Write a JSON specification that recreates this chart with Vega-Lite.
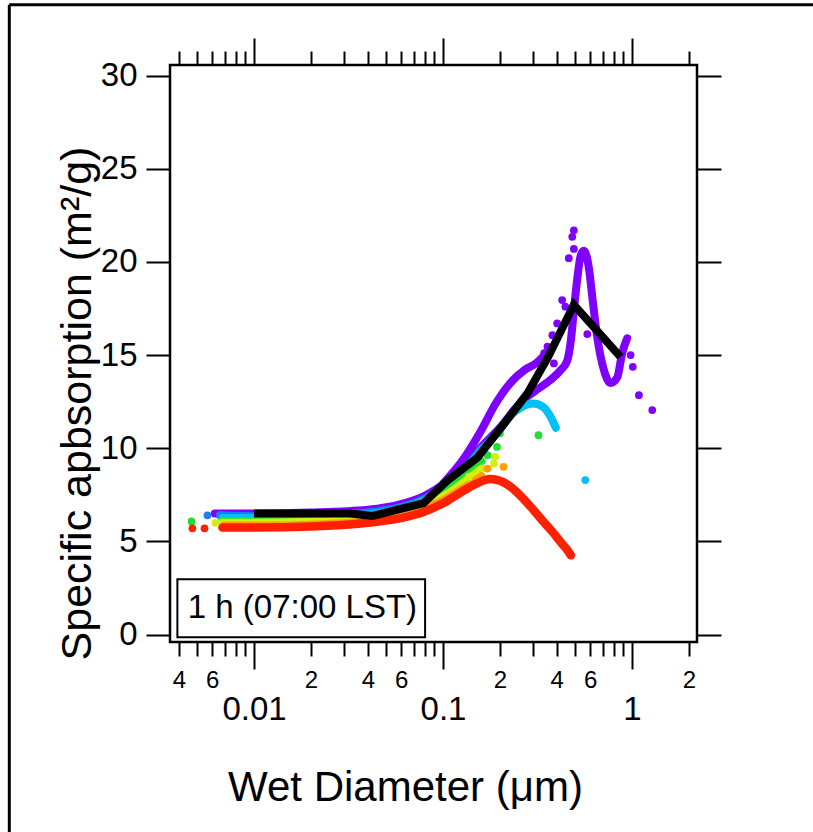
{
  "$schema": "https://vega.github.io/schema/vega-lite/v6.json",
  "width": 527,
  "height": 577,
  "autosize": {"type": "none"},
  "padding": {"left": 170, "top": 65, "right": 116, "bottom": 190},
  "background": "white",
  "config": {
    "font": "Liberation Sans",
    "view": {"stroke": "black", "strokeWidth": 2.5},
    "axis": {"domain": false, "grid": false, "tickColor": "black", "tickWidth": 2, "labelColor": "black", "titleColor": "black", "labelFont": "Liberation Sans", "titleFont": "Liberation Sans", "titleFontWeight": "normal", "labelOverlap": false, "labelFlush": false, "labelBound": false}
  },
  "datasets": {
    "purple_main": [
      {"d": 0.0062, "v": 6.5}, {"d": 0.01, "v": 6.5}, {"d": 0.02, "v": 6.55}, {"d": 0.04, "v": 6.7}, {"d": 0.06, "v": 7.0}, {"d": 0.08, "v": 7.45}, {"d": 0.1, "v": 8.05}, {"d": 0.13, "v": 9.1}, {"d": 0.16, "v": 10.1}, {"d": 0.2, "v": 11.1}, {"d": 0.24, "v": 12.1}, {"d": 0.279, "v": 12.76}, {"d": 0.32, "v": 13.2}, {"d": 0.37, "v": 13.66}, {"d": 0.42, "v": 14.2}, {"d": 0.454, "v": 14.7}, {"d": 0.475, "v": 15.8}, {"d": 0.4925, "v": 17.4}, {"d": 0.515, "v": 19.2}, {"d": 0.534, "v": 20.3}, {"d": 0.556, "v": 20.6}, {"d": 0.591, "v": 19.7}, {"d": 0.62, "v": 17.9}, {"d": 0.654, "v": 16.0}, {"d": 0.71, "v": 14.2}, {"d": 0.77, "v": 13.5}, {"d": 0.835, "v": 13.8}, {"d": 0.887, "v": 15.1}, {"d": 0.943, "v": 15.9}
    ],
    "purple_upper": [
      {"d": 0.1, "v": 8.1}, {"d": 0.13, "v": 9.5}, {"d": 0.158, "v": 10.9}, {"d": 0.19, "v": 12.4}, {"d": 0.227, "v": 13.5}, {"d": 0.27, "v": 14.2}, {"d": 0.31, "v": 14.55}, {"d": 0.345, "v": 15.0}
    ],
    "blue": [
      {"d": 0.0066, "v": 6.4}, {"d": 0.01, "v": 6.35}, {"d": 0.02, "v": 6.4}, {"d": 0.04, "v": 6.55}, {"d": 0.06, "v": 6.85}, {"d": 0.08, "v": 7.3}, {"d": 0.1, "v": 7.9}, {"d": 0.13, "v": 8.9}, {"d": 0.16, "v": 10.0}
    ],
    "cyan": [
      {"d": 0.0068, "v": 6.25}, {"d": 0.01, "v": 6.25}, {"d": 0.02, "v": 6.3}, {"d": 0.04, "v": 6.45}, {"d": 0.06, "v": 6.75}, {"d": 0.08, "v": 7.2}, {"d": 0.1, "v": 7.75}, {"d": 0.13, "v": 8.8}, {"d": 0.16, "v": 9.9}, {"d": 0.2, "v": 11.0}, {"d": 0.23, "v": 11.8}, {"d": 0.26, "v": 12.2}, {"d": 0.3, "v": 12.4}, {"d": 0.34, "v": 12.2}, {"d": 0.37, "v": 11.7}, {"d": 0.395, "v": 11.1}
    ],
    "green": [
      {"d": 0.0068, "v": 6.1}, {"d": 0.01, "v": 6.1}, {"d": 0.02, "v": 6.15}, {"d": 0.04, "v": 6.3}, {"d": 0.06, "v": 6.6}, {"d": 0.08, "v": 7.05}, {"d": 0.1, "v": 7.55}, {"d": 0.13, "v": 8.5}, {"d": 0.16, "v": 9.3}
    ],
    "yellow": [
      {"d": 0.0068, "v": 6.0}, {"d": 0.01, "v": 6.0}, {"d": 0.02, "v": 6.05}, {"d": 0.04, "v": 6.2}, {"d": 0.06, "v": 6.5}, {"d": 0.08, "v": 6.9}, {"d": 0.1, "v": 7.4}, {"d": 0.13, "v": 8.2}, {"d": 0.16, "v": 8.9}
    ],
    "orange": [
      {"d": 0.007, "v": 5.85}, {"d": 0.01, "v": 5.85}, {"d": 0.02, "v": 5.9}, {"d": 0.04, "v": 6.1}, {"d": 0.06, "v": 6.35}, {"d": 0.08, "v": 6.75}, {"d": 0.1, "v": 7.2}, {"d": 0.13, "v": 7.9}, {"d": 0.16, "v": 8.5}
    ],
    "red": [
      {"d": 0.0068, "v": 5.75}, {"d": 0.01, "v": 5.75}, {"d": 0.02, "v": 5.8}, {"d": 0.04, "v": 6.0}, {"d": 0.06, "v": 6.25}, {"d": 0.08, "v": 6.6}, {"d": 0.1, "v": 7.05}, {"d": 0.125, "v": 7.65}, {"d": 0.15, "v": 8.1}, {"d": 0.178, "v": 8.35}, {"d": 0.2, "v": 8.25}, {"d": 0.23, "v": 7.9}, {"d": 0.26, "v": 7.4}, {"d": 0.3, "v": 6.7}, {"d": 0.34, "v": 6.05}, {"d": 0.38, "v": 5.5}, {"d": 0.42, "v": 4.95}, {"d": 0.45, "v": 4.6}, {"d": 0.475, "v": 4.25}
    ],
    "purple_pts": [
      {"d": 0.4925, "v": 21.7}, {"d": 0.483, "v": 21.35}, {"d": 0.4925, "v": 20.7}, {"d": 0.463, "v": 20.2}, {"d": 0.427, "v": 17.95}, {"d": 0.444, "v": 17.6}, {"d": 0.402, "v": 16.7}, {"d": 0.379, "v": 16.07}, {"d": 0.357, "v": 15.45}, {"d": 0.343, "v": 15.1}, {"d": 0.386, "v": 14.55}, {"d": 0.58, "v": 16.13}, {"d": 0.983, "v": 15.0}, {"d": 1.01, "v": 14.37}, {"d": 1.088, "v": 12.85}, {"d": 1.28, "v": 12.05}
    ],
    "blue_pts": [{"d": 0.00567, "v": 6.4}],
    "cyan_pts": [{"d": 0.566, "v": 8.29}],
    "green_pts": [{"d": 0.00467, "v": 6.07}, {"d": 0.32, "v": 10.7}, {"d": 0.2, "v": 10.8}, {"d": 0.193, "v": 10.07}, {"d": 0.172, "v": 9.63}],
    "yellow_pts": [{"d": 0.00625, "v": 6.0}, {"d": 0.189, "v": 9.54}, {"d": 0.186, "v": 9.18}, {"d": 0.137, "v": 8.46}],
    "orange_pts": [{"d": 0.172, "v": 8.91}, {"d": 0.209, "v": 9.0}],
    "red_pts": [{"d": 0.00472, "v": 5.7}, {"d": 0.00547, "v": 5.7}],
    "black": [
      {"d": 0.01, "v": 6.5}, {"d": 0.0323, "v": 6.5}, {"d": 0.0424, "v": 6.37}, {"d": 0.0789, "v": 7.05}, {"d": 0.105, "v": 8.25}, {"d": 0.152, "v": 9.5}, {"d": 0.21, "v": 11.3}, {"d": 0.28, "v": 12.95}, {"d": 0.36, "v": 14.9}, {"d": 0.4925, "v": 17.7}, {"d": 0.869, "v": 14.9}
    ]
  },
  "layer": [
    {
      "data": {"values": [{}]},
      "mark": {"type": "rule", "color": "black", "strokeWidth": 3, "clip": false},
      "encoding": {
        "x": {"datum": 0.000507, "type": "quantitative", "scale": {"type": "log", "domain": [0.003592, 2.208], "nice": false}, "axis": null},
        "y": {"datum": 33.8, "type": "quantitative", "scale": {"domain": [-0.4, 30.57], "nice": false, "zero": false}, "axis": null},
        "y2": {"datum": -12}
      }
    },
    {
      "data": {"values": [{}]},
      "mark": {"type": "rule", "color": "black", "strokeWidth": 3, "clip": false},
      "encoding": {
        "x": {"datum": 0.000507, "type": "quantitative", "scale": {"type": "log", "domain": [0.003592, 2.208], "nice": false}, "axis": null},
        "x2": {"datum": 12},
        "y": {"datum": 33.8, "type": "quantitative", "scale": {"domain": [-0.4, 30.57], "nice": false, "zero": false}, "axis": null}
      }
    },
    {
      "data": {"name": "purple_main"},
      "mark": {"type": "line", "color": "#7f00ff", "strokeWidth": 8, "strokeCap": "round", "interpolate": "monotone"},
      "encoding": {
        "x": {"field": "d", "type": "quantitative", "scale": {"type": "log", "domain": [0.003592, 2.208], "nice": false},
          "axis": {"orient": "bottom", "values": [0.004, 0.005, 0.006, 0.007, 0.008, 0.009, 0.02, 0.03, 0.04, 0.05, 0.06, 0.07, 0.08, 0.09, 0.2, 0.3, 0.4, 0.5, 0.6, 0.7, 0.8, 0.9, 2], "tickSize": 14, "labelFontSize": 24, "labelPadding": 12, "labelExpr": "indexof(['2','4','6'], slice(format(datum.value, '.0e'), 0, 1)) >= 0 ? slice(format(datum.value, '.0e'), 0, 1) : ''", "title": null}},
        "y": {"field": "v", "type": "quantitative", "scale": {"domain": [-0.4, 30.57], "nice": false, "zero": false},
          "axis": {"orient": "left", "values": [0, 5, 10, 15, 20, 25, 30], "tickSize": 24, "labelFontSize": 33, "labelPadding": 9, "title": "Specific apbsorption (m²/g)", "titleFontSize": 43, "titleX": -80, "titleY": 338, "titleBaseline": "alphabetic", "titleAlign": "center", "titleAngle": -90}}
      }
    },
    {
      "data": {"name": "purple_upper"},
      "mark": {"type": "line", "color": "#7f00ff", "strokeWidth": 8, "strokeCap": "round", "interpolate": "monotone"},
      "encoding": {
        "x": {"field": "d", "type": "quantitative", "scale": {"type": "log", "domain": [0.003592, 2.208], "nice": false},
          "axis": {"orient": "bottom", "values": [0.01, 0.1, 1], "tickSize": 27, "labelFontSize": 33, "labelPadding": 24, "labelExpr": "datum.value < 0.05 ? '0.01' : datum.value < 0.5 ? '0.1' : '1'", "title": "Wet Diameter (μm)", "titleFontSize": 42, "titleX": 235, "titleY": 158, "titleBaseline": "alphabetic", "titleAlign": "center"}},
        "y": {"field": "v", "type": "quantitative", "scale": {"domain": [-0.4, 30.57], "nice": false, "zero": false},
          "axis": {"orient": "right", "values": [0, 5, 10, 15, 20, 25, 30], "tickSize": 24, "labels": false, "title": null}}
      }
    },
    {
      "data": {"name": "blue"},
      "mark": {"type": "line", "color": "#1a7cff", "strokeWidth": 8, "strokeCap": "round", "interpolate": "monotone"},
      "encoding": {
        "x": {"field": "d", "type": "quantitative", "scale": {"type": "log", "domain": [0.003592, 2.208], "nice": false},
          "axis": {"orient": "top", "values": [0.004, 0.005, 0.006, 0.007, 0.008, 0.009, 0.02, 0.03, 0.04, 0.05, 0.06, 0.07, 0.08, 0.09, 0.2, 0.3, 0.4, 0.5, 0.6, 0.7, 0.8, 0.9, 2], "tickSize": 14, "labels": false, "title": null}},
        "y": {"field": "v", "type": "quantitative", "scale": {"domain": [-0.4, 30.57], "nice": false, "zero": false}, "axis": null}
      }
    },
    {
      "data": {"name": "cyan"},
      "mark": {"type": "line", "color": "#00c0f8", "strokeWidth": 8, "strokeCap": "round", "interpolate": "monotone"},
      "encoding": {
        "x": {"field": "d", "type": "quantitative", "scale": {"type": "log", "domain": [0.003592, 2.208], "nice": false},
          "axis": {"orient": "top", "values": [0.01, 0.1, 1], "tickSize": 27, "labels": false, "title": null}},
        "y": {"field": "v", "type": "quantitative", "scale": {"domain": [-0.4, 30.57], "nice": false, "zero": false}, "axis": null}
      }
    },
    {
      "data": {"name": "green"},
      "mark": {"type": "line", "color": "#20e030", "strokeWidth": 8, "strokeCap": "round", "interpolate": "monotone"},
      "encoding": {
        "x": {"field": "d", "type": "quantitative", "scale": {"type": "log", "domain": [0.003592, 2.208], "nice": false}, "axis": null},
        "y": {"field": "v", "type": "quantitative", "scale": {"domain": [-0.4, 30.57], "nice": false, "zero": false}, "axis": null}
      }
    },
    {
      "data": {"name": "yellow"},
      "mark": {"type": "line", "color": "#d4ee10", "strokeWidth": 8, "strokeCap": "round", "interpolate": "monotone"},
      "encoding": {
        "x": {"field": "d", "type": "quantitative", "scale": {"type": "log", "domain": [0.003592, 2.208], "nice": false}, "axis": null},
        "y": {"field": "v", "type": "quantitative", "scale": {"domain": [-0.4, 30.57], "nice": false, "zero": false}, "axis": null}
      }
    },
    {
      "data": {"name": "orange"},
      "mark": {"type": "line", "color": "#ffa000", "strokeWidth": 8, "strokeCap": "round", "interpolate": "monotone"},
      "encoding": {
        "x": {"field": "d", "type": "quantitative", "scale": {"type": "log", "domain": [0.003592, 2.208], "nice": false}, "axis": null},
        "y": {"field": "v", "type": "quantitative", "scale": {"domain": [-0.4, 30.57], "nice": false, "zero": false}, "axis": null}
      }
    },
    {
      "data": {"name": "red"},
      "mark": {"type": "line", "color": "#ff2000", "strokeWidth": 8.5, "strokeCap": "round", "interpolate": "monotone"},
      "encoding": {
        "x": {"field": "d", "type": "quantitative", "scale": {"type": "log", "domain": [0.003592, 2.208], "nice": false}, "axis": null},
        "y": {"field": "v", "type": "quantitative", "scale": {"domain": [-0.4, 30.57], "nice": false, "zero": false}, "axis": null}
      }
    },
    {
      "data": {"name": "purple_pts"},
      "mark": {"type": "point", "filled": true, "opacity": 1, "color": "#7f00ff", "size": 60},
      "encoding": {
        "x": {"field": "d", "type": "quantitative", "scale": {"type": "log", "domain": [0.003592, 2.208], "nice": false}, "axis": null},
        "y": {"field": "v", "type": "quantitative", "scale": {"domain": [-0.4, 30.57], "nice": false, "zero": false}, "axis": null}
      }
    },
    {
      "data": {"name": "blue_pts"},
      "mark": {"type": "point", "filled": true, "opacity": 1, "color": "#1a7cff", "size": 60},
      "encoding": {
        "x": {"field": "d", "type": "quantitative", "scale": {"type": "log", "domain": [0.003592, 2.208], "nice": false}, "axis": null},
        "y": {"field": "v", "type": "quantitative", "scale": {"domain": [-0.4, 30.57], "nice": false, "zero": false}, "axis": null}
      }
    },
    {
      "data": {"name": "cyan_pts"},
      "mark": {"type": "point", "filled": true, "opacity": 1, "color": "#00c0f8", "size": 60},
      "encoding": {
        "x": {"field": "d", "type": "quantitative", "scale": {"type": "log", "domain": [0.003592, 2.208], "nice": false}, "axis": null},
        "y": {"field": "v", "type": "quantitative", "scale": {"domain": [-0.4, 30.57], "nice": false, "zero": false}, "axis": null}
      }
    },
    {
      "data": {"name": "green_pts"},
      "mark": {"type": "point", "filled": true, "opacity": 1, "color": "#20e030", "size": 60},
      "encoding": {
        "x": {"field": "d", "type": "quantitative", "scale": {"type": "log", "domain": [0.003592, 2.208], "nice": false}, "axis": null},
        "y": {"field": "v", "type": "quantitative", "scale": {"domain": [-0.4, 30.57], "nice": false, "zero": false}, "axis": null}
      }
    },
    {
      "data": {"name": "yellow_pts"},
      "mark": {"type": "point", "filled": true, "opacity": 1, "color": "#d4ee10", "size": 60},
      "encoding": {
        "x": {"field": "d", "type": "quantitative", "scale": {"type": "log", "domain": [0.003592, 2.208], "nice": false}, "axis": null},
        "y": {"field": "v", "type": "quantitative", "scale": {"domain": [-0.4, 30.57], "nice": false, "zero": false}, "axis": null}
      }
    },
    {
      "data": {"name": "orange_pts"},
      "mark": {"type": "point", "filled": true, "opacity": 1, "color": "#ffa000", "size": 60},
      "encoding": {
        "x": {"field": "d", "type": "quantitative", "scale": {"type": "log", "domain": [0.003592, 2.208], "nice": false}, "axis": null},
        "y": {"field": "v", "type": "quantitative", "scale": {"domain": [-0.4, 30.57], "nice": false, "zero": false}, "axis": null}
      }
    },
    {
      "data": {"name": "red_pts"},
      "mark": {"type": "point", "filled": true, "opacity": 1, "color": "#ff2000", "size": 60},
      "encoding": {
        "x": {"field": "d", "type": "quantitative", "scale": {"type": "log", "domain": [0.003592, 2.208], "nice": false}, "axis": null},
        "y": {"field": "v", "type": "quantitative", "scale": {"domain": [-0.4, 30.57], "nice": false, "zero": false}, "axis": null}
      }
    },
    {
      "data": {"name": "black"},
      "mark": {"type": "line", "color": "black", "strokeWidth": 8, "strokeCap": "butt", "strokeJoin": "miter", "interpolate": "linear"},
      "encoding": {
        "x": {"field": "d", "type": "quantitative", "scale": {"type": "log", "domain": [0.003592, 2.208], "nice": false}, "axis": null},
        "y": {"field": "v", "type": "quantitative", "scale": {"domain": [-0.4, 30.57], "nice": false, "zero": false}, "axis": null}
      }
    },
    {
      "data": {"values": [{}]},
      "mark": {"type": "rect", "fill": "white", "stroke": "black", "strokeWidth": 2},
      "encoding": {
        "x": {"datum": 0.00393, "type": "quantitative", "scale": {"type": "log", "domain": [0.003592, 2.208], "nice": false}, "axis": null},
        "x2": {"datum": 0.0804},
        "y": {"datum": 2.97, "type": "quantitative", "scale": {"domain": [-0.4, 30.57], "nice": false, "zero": false}, "axis": null},
        "y2": {"datum": -0.145}
      }
    },
    {
      "data": {"values": [{"label": "1 h (07:00 LST)"}]},
      "mark": {"type": "text", "fontSize": 33, "align": "center", "baseline": "middle", "color": "black"},
      "encoding": {
        "x": {"datum": 0.01804, "type": "quantitative", "scale": {"type": "log", "domain": [0.003592, 2.208], "nice": false}, "axis": null},
        "y": {"datum": 1.4, "type": "quantitative", "scale": {"domain": [-0.4, 30.57], "nice": false, "zero": false}, "axis": null},
        "text": {"field": "label"}
      }
    }
  ],
  "resolve": {"axis": {"x": "independent", "y": "independent"}}
}
